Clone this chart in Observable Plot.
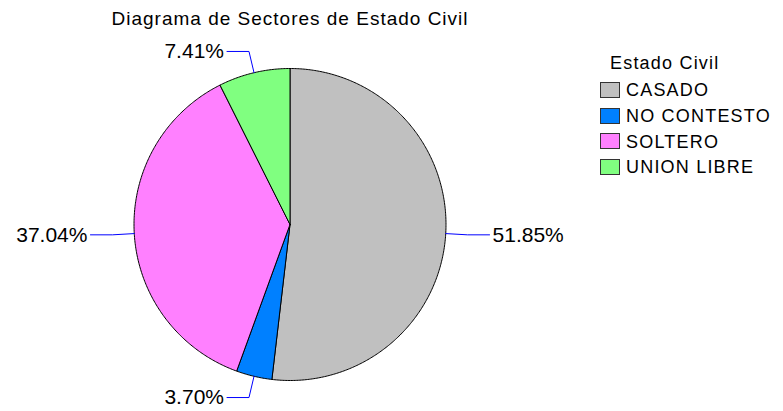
<!DOCTYPE html>
<html>
<head>
<meta charset="utf-8">
<script src="https://cdn.jsdelivr.net/npm/d3@7"></script>
<script src="https://cdn.jsdelivr.net/npm/@observablehq/plot@0.6"></script>
<style>
  body { margin: 0; background: #fff; }
  #wrap { position: relative; width: 783px; height: 411px; background: #fff; font-family: "Liberation Sans", Arial, sans-serif; color: #000; }
  #wrap svg { position: absolute; left: 0; top: 0; }
  .lg { position: absolute; font-size: 18px; line-height: 18px; letter-spacing: 1.2px; white-space: nowrap; }
  .sw { position: absolute; width: 18px; height: 14px; border: 1px solid #333; }
</style>
</head>
<body>
<div id="wrap"></div>
<script>
// ---- data ----
const title = "Diagrama de Sectores de Estado Civil";
const legendTitle = "Estado Civil";
const categories = ["CASADO", "NO CONTESTO", "SOLTERO", "UNION LIBRE"];
const counts = [14, 1, 10, 2];
const percentLabels = ["51.85%", "3.70%", "37.04%", "7.41%"];
const colors = ["#c0c0c0", "#0080ff", "#ff80ff", "#80ff80"];

// ---- layout ----
const W = 783, H = 411;
const cx = 289.5, cy = 224, R = 156;   // pie centre & radius in px

const arcs = d3.pie().sort(null).value(d => d)(counts);

// slice outlines in unit-circle coordinates (y up)
const slices = arcs.map((a, i) => {
  const pts = [{x: 0, y: 0}];
  const n = Math.max(4, Math.ceil((a.endAngle - a.startAngle) / 0.01));
  for (let k = 0; k <= n; k++) {
    const t = a.startAngle + (a.endAngle - a.startAngle) * k / n;
    pts.push({x: Math.sin(t), y: Math.cos(t)});
  }
  pts.push({x: 0, y: 0});
  return {category: categories[i], color: colors[i], pts};
});

// leader lines and labels
const leaders = [];
const labels = [];
arcs.forEach((a, i) => {
  const m = (a.startAngle + a.endAngle) / 2;
  const sx = Math.sin(m), sy = Math.cos(m);
  const side = sx >= 0 ? 1 : -1;
  const e = 1.14;
  const ex = e * sx, ey = e * sy;
  const hx = ex + side * 22 / R;
  leaders.push({k: i, x: sx, y: sy}, {k: i, x: ex, y: ey}, {k: i, x: hx, y: ey});
  labels.push({x: hx + side * 3 / R, y: ey, text: percentLabels[i], anchor: side > 0 ? "start" : "end"});
});

const marks = slices.map(s =>
  Plot.line(s.pts, {x: "x", y: "y", fill: s.color, stroke: "#000", strokeWidth: 1, curve: "linear"})
);
marks.push(Plot.line(leaders, {x: "x", y: "y", z: "k", stroke: "#0000ff", strokeWidth: 1}));
marks.push(Plot.text(labels.filter(d => d.anchor === "start"), {x: "x", y: "y", text: "text", textAnchor: "start", lineAnchor: "middle", fontSize: 21, fill: "#000"}));
marks.push(Plot.text(labels.filter(d => d.anchor === "end"), {x: "x", y: "y", text: "text", textAnchor: "end", lineAnchor: "middle", fontSize: 21, fill: "#000"}));
marks.push(Plot.text([title], {x: () => 0, y: () => (cy - 18.5) / R, text: d => d, textAnchor: "middle", lineAnchor: "middle", fontSize: 19, fill: "#000", ariaLabel: "charttitle"}));

const chart = Plot.plot({
  width: W,
  height: H,
  margin: 0,
  x: {domain: [-cx / R, (W - cx) / R], range: [0, W], axis: null},
  y: {domain: [-(H - cy) / R, cy / R], range: [H, 0], axis: null},
  style: {fontFamily: "'Liberation Sans', Arial, sans-serif", background: "#fff", color: "#000", overflow: "visible"},
  marks
});

// widen the title lettering to match the reference
chart.querySelectorAll('g[aria-label="charttitle"] text').forEach(t => t.setAttribute("letter-spacing", "1"));
chart.querySelectorAll('text').forEach(t => { if (t.textContent === title) t.setAttribute("letter-spacing", "1"); });

const wrap = document.getElementById("wrap");
wrap.appendChild(chart);

// legend (HTML)
const lt = document.createElement("div");
lt.className = "lg";
lt.style.left = "610px";
lt.style.top = (63 - 8.8) + "px";
lt.textContent = legendTitle;
wrap.appendChild(lt);
categories.forEach((c, i) => {
  const rc = 90 + i * 25.7;
  const sw = document.createElement("div");
  sw.className = "sw";
  sw.style.left = "600px";
  sw.style.top = (rc - 8) + "px";
  sw.style.background = colors[i];
  wrap.appendChild(sw);
  const t = document.createElement("div");
  t.className = "lg";
  t.style.left = "626px";
  t.style.top = (rc - 8.8) + "px";
  t.textContent = c;
  wrap.appendChild(t);
});
</script>
</body>
</html>
